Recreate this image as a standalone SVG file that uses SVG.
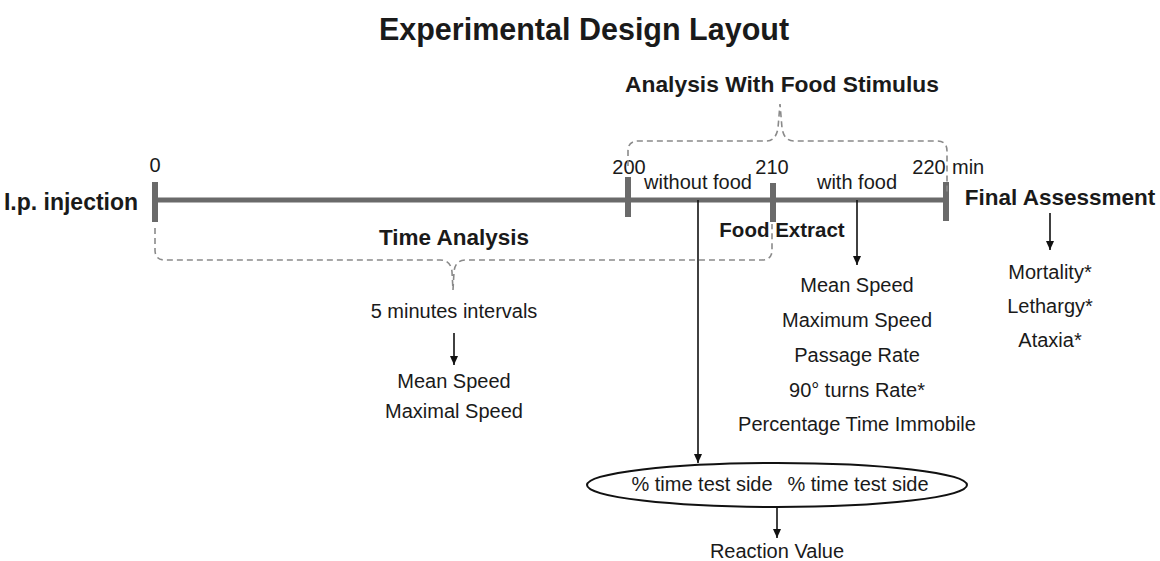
<svg xmlns="http://www.w3.org/2000/svg" width="1160" height="561" viewBox="0 0 1160 561">
<defs>
<marker id="ah" markerWidth="9" markerHeight="8" refX="9" refY="4" orient="auto" markerUnits="userSpaceOnUse" viewBox="0 0 9 8">
<path d="M0,0 L9,4 L0,8 Z" fill="#111"/>
</marker>
</defs>
<style>
text{font-family:"Liberation Sans",Arial,sans-serif;fill:#1a1a1a;text-anchor:middle}
.b{font-weight:bold}
.r{font-size:20px}
.h{font-size:22.5px}
.axis{stroke:#6a6a6a;stroke-width:5;fill:none}
.tick{stroke:#6a6a6a;stroke-width:6;fill:none}
.dash{stroke:#8a8a8a;stroke-width:1.6;fill:none;stroke-dasharray:6 4}
.arr{stroke:#111;stroke-width:1.6;fill:none;marker-end:url(#ah)}
</style>
<rect width="1160" height="561" fill="#fff"/>
<text x="584" y="40" class="b" style="font-size:30.5px">Experimental Design Layout</text>

<g id="timeline">
<line class="axis" x1="155" y1="200" x2="946" y2="200"/>
<line class="tick" x1="155" y1="182" x2="155" y2="222"/>
<line class="tick" x1="628" y1="177" x2="628" y2="217"/>
<line class="tick" x1="773" y1="183" x2="773" y2="222"/>
<line class="tick" x1="946" y1="182" x2="946" y2="221"/>
<text x="155" y="172" class="r">0</text>
<text x="629" y="174" class="r">200</text>
<text x="772" y="174" class="r">210</text>
<text x="929" y="174" class="r">220</text>
<text x="952" y="174" class="r" style="text-anchor:start">min</text>
<text x="698" y="189" class="r">without food</text>
<text x="857" y="189" class="r">with food</text>
</g>

<g id="connectors">
<path class="dash" d="M628,166 L628,151 Q628,141 638,141 L766,141 Q776,141 778,128 L780,104 L782,128 Q784,141 794,141 L937,141 Q947,141 947,151 L947,192"/>
<path class="dash" d="M155,228 L155,250 Q155,260 165,260 L440,260 Q451,260 452,272 L453,290 M453,290 L454,272 Q455,260 466,260 L762,260 Q772,260 772,250 L772,224"/>
<line class="arr" x1="698" y1="200" x2="698" y2="463"/>
<line class="arr" x1="857" y1="200" x2="857" y2="265"/>
<line class="arr" x1="1050" y1="213" x2="1050" y2="250"/>
<line class="arr" x1="454" y1="333" x2="454" y2="365"/>
<line class="arr" x1="777" y1="507" x2="777" y2="538"/>
</g>

<g id="injection"><text x="71" y="210" class="b" style="font-size:23px">I.p. injection</text></g>
<g id="final"><text x="1060" y="205" class="b h">Final Assessment</text>
<text x="1050" y="279" class="r">Mortality*</text>
<text x="1050" y="313" class="r">Lethargy*</text>
<text x="1050" y="347" class="r">Ataxia*</text>
</g>
<g id="stimulus"><text x="782" y="92" class="b" style="font-size:22.8px">Analysis With Food Stimulus</text></g>
<g id="foodextract"><text x="782" y="237" class="b" style="font-size:20.5px">Food Extract</text></g>
<g id="timeanalysis"><text x="454" y="245" class="b h">Time Analysis</text></g>
<g id="intervals">
<text x="454" y="318" class="r">5 minutes intervals</text>
<text x="454" y="388" class="r">Mean Speed</text>
<text x="454" y="418" class="r">Maximal Speed</text>
</g>
<g id="withfood">
<text x="857" y="292" class="r">Mean Speed</text>
<text x="857" y="327" class="r">Maximum Speed</text>
<text x="857" y="362" class="r">Passage Rate</text>
<text x="857" y="397" class="r">90° turns Rate*</text>
<text x="857" y="431" class="r">Percentage Time Immobile</text>
</g>
<g id="ellipse">
<ellipse cx="777" cy="485" rx="190" ry="22" fill="#fff" stroke="#111" stroke-width="2"/>
<text x="702" y="491" class="r">% time test side</text>
<text x="858" y="491" class="r">% time test side</text>
</g>
<g id="reaction"><text x="777" y="558" class="r">Reaction Value</text></g>
</svg>
